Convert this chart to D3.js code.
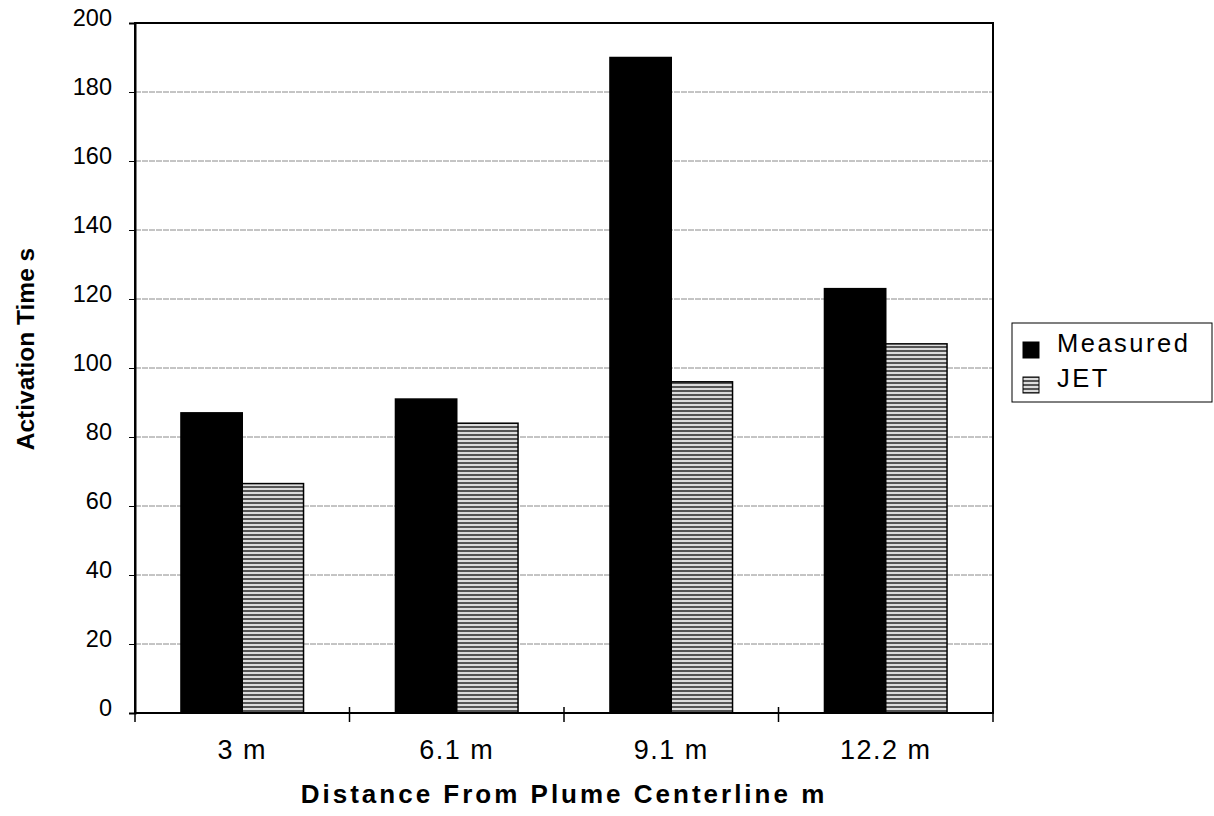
<!DOCTYPE html>
<html lang="en">
<head>
    <meta charset="UTF-8">
    <title>Activation Time</title>
    <script src="https://d3js.org/d3.v7.min.js"></script>
    <style>
        body { margin: 0; background: #fff; }
        svg text { font-family: "Liberation Sans", Arial, sans-serif; fill: #000; }
        .grid line { stroke: #8a8a8a; stroke-width: 1; stroke-dasharray: 6 1; }
    </style>
</head>
<body>
    <svg id="chart" width="1214" height="816"></svg>
    <script>
        // Data
        const categories = ["3 m", "6.1 m", "9.1 m", "12.2 m"];
        const measured = [87, 91, 190, 123];
        const jet = [66.5, 84, 96, 107];
        const seriesNames = ["Measured", "JET"];
        const yTicks = [0, 20, 40, 60, 80, 100, 120, 140, 160, 180, 200];

        const margin = { top: 23, left: 135, right: 221, bottom: 103 };
        const width = 1214, height = 816;
        const svg = d3.select("#chart");

        // JET fill: horizontal stripes
        const defs = svg.append("defs");
        const pat = defs.append("pattern")
            .attr("id", "stripes")
            .attr("patternUnits", "userSpaceOnUse")
            .attr("width", 8).attr("height", 4);
        pat.append("rect").attr("width", 8).attr("height", 4).attr("fill", "#dcdcdc");
        pat.append("rect").attr("y", 2).attr("width", 8).attr("height", 2).attr("fill", "#555");

        const x = d3.scaleBand()
            .domain(categories)
            .range([margin.left, width - margin.right]);
        // gap width 150% => bars take 2/3.5 of each band
        const x1 = d3.scaleBand()
            .domain(seriesNames)
            .range([0, x.bandwidth() * 2 / 3.5]);
        const y = d3.scaleLinear()
            .domain([0, 200])
            .range([height - margin.bottom, margin.top]);

        // gridlines
        svg.append("g")
            .attr("class", "grid")
            .selectAll("line")
            .data(yTicks.slice(1, -1))
            .join("line")
            .attr("x1", margin.left).attr("x2", width - margin.right)
            .attr("y1", d => y(d)).attr("y2", d => y(d));

        const rows = categories.map((c, i) => ({ cat: c, values: [measured[i], jet[i]] }));
        const offset = x.bandwidth() * 0.75 / 3.5;

        const groups = svg.append("g")
            .selectAll("g")
            .data(rows)
            .join("g")
            .attr("transform", d => `translate(${x(d.cat) + offset},0)`);

        groups.selectAll("rect")
            .data(d => d.values.map((v, i) => ({ name: seriesNames[i], v })))
            .join("rect")
            .attr("x", d => x1(d.name))
            .attr("width", x1.bandwidth())
            .attr("y", d => y(d.v))
            .attr("height", d => y(0) - y(d.v))
            .attr("fill", d => d.name === "Measured" ? "#000" : "url(#stripes)")
            .attr("stroke", "#000")
            .attr("stroke-width", 1.5);

        // plot frame
        svg.append("rect")
            .attr("x", margin.left).attr("y", margin.top)
            .attr("width", width - margin.right - margin.left)
            .attr("height", y(0) - margin.top)
            .attr("fill", "none")
            .attr("stroke", "#000")
            .attr("stroke-width", 2);

        // y axis
        const yAxis = svg.append("g")
            .attr("transform", `translate(${margin.left},0)`)
            .call(d3.axisLeft(y).tickValues(yTicks).tickSize(6).tickPadding(17));
        yAxis.select(".domain").attr("stroke-width", 2);
        yAxis.selectAll("text").attr("font-size", 23.5).attr("dy", "0.12em");

        // x axis: ticks between categories
        const xAxis = svg.append("g")
            .attr("transform", `translate(0,${y(0)})`);
        xAxis.append("line")
            .attr("x1", margin.left).attr("x2", width - margin.right)
            .attr("stroke", "#000").attr("stroke-width", 2);
        xAxis.selectAll(".tk")
            .data(categories)
            .join("line")
            .attr("class", "tk")
            .attr("x1", d => x(d)).attr("x2", d => x(d))
            .attr("y1", -6).attr("y2", 9)
            .attr("stroke", "#000").attr("stroke-width", 1.5);
        xAxis.append("line")
            .attr("x1", width - margin.right).attr("x2", width - margin.right)
            .attr("y1", 0).attr("y2", 9)
            .attr("stroke", "#000").attr("stroke-width", 1.5);
        xAxis.selectAll(".lbl")
            .data(categories)
            .join("text")
            .attr("class", "lbl")
            .attr("x", d => x(d) + x.bandwidth() / 2)
            .attr("y", 46)
            .attr("text-anchor", "middle")
            .attr("font-size", 27)
            .attr("letter-spacing", 1.5)
            .text(d => d);

        // axis titles
        svg.append("text")
            .attr("x", (margin.left + width - margin.right) / 2)
            .attr("y", 803)
            .attr("text-anchor", "middle")
            .attr("font-size", 26)
            .attr("font-weight", "bold")
            .attr("letter-spacing", 3)
            .text("Distance From Plume Centerline m");

        svg.append("text")
            .attr("transform", `translate(34,${y(100) - 19}) rotate(-90)`)
            .attr("text-anchor", "middle")
            .attr("font-size", 24.5)
            .attr("font-weight", "bold")
            .text("Activation Time s");

        // legend
        const lg = svg.append("g").attr("transform", "translate(1012,323)");
        lg.append("rect")
            .attr("width", 200).attr("height", 79)
            .attr("fill", "#fff").attr("stroke", "#000").attr("stroke-width", 1);
        const li = lg.selectAll(".li")
            .data(seriesNames)
            .join("g")
            .attr("class", "li")
            .attr("transform", (d, i) => `translate(11,${i * 35})`);
        li.append("rect")
            .attr("y", 19).attr("width", 16).attr("height", 16)
            .attr("fill", d => d === "Measured" ? "#000" : "url(#stripes)")
            .attr("stroke", "#000");
        li.append("text")
            .attr("x", 34).attr("y", 29)
            .attr("font-size", 25.5)
            .attr("letter-spacing", 2.5)
            .text(d => d);
    </script>
</body>
</html>
